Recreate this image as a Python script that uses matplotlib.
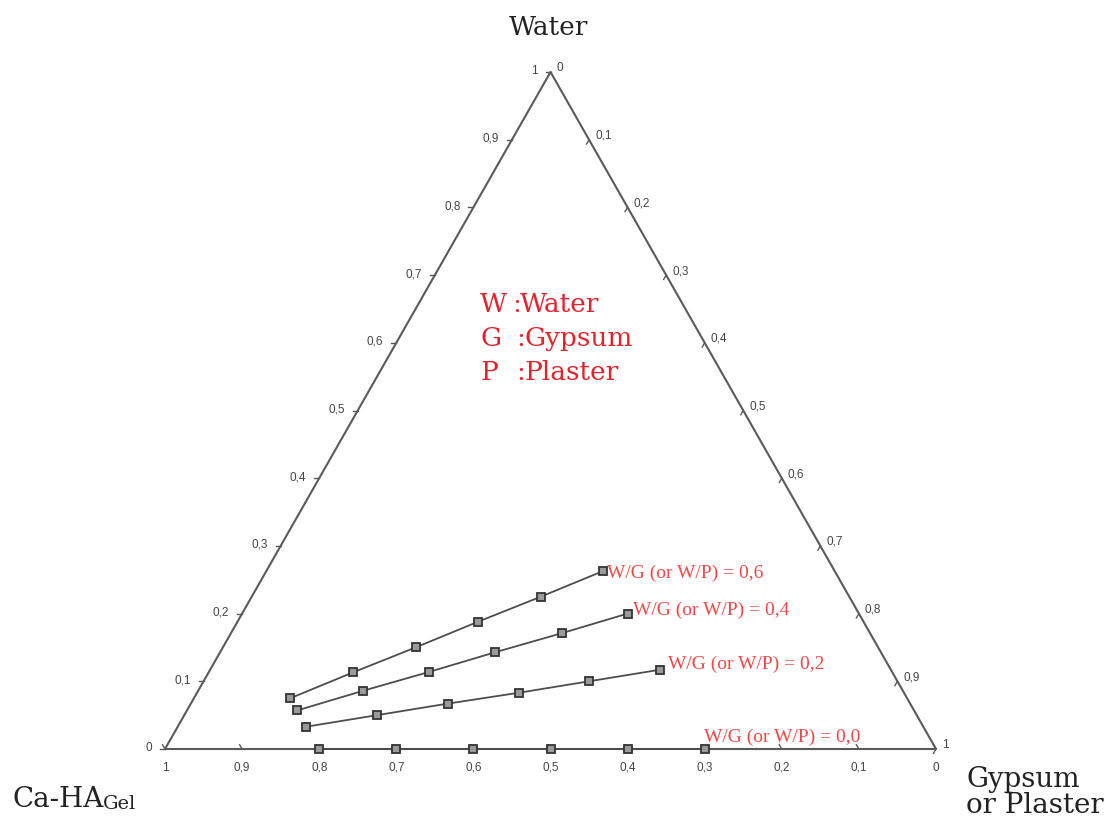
import matplotlib.pyplot as plt

# Ternary compositions (mass fractions)
ca_ha = [0.8, 0.7, 0.6, 0.5, 0.4, 0.3]
water_wg00 = [0.0, 0.0, 0.0, 0.0, 0.0, 0.0]
water_wg02 = [0.033, 0.05, 0.067, 0.083, 0.1, 0.117]
water_wg04 = [0.057, 0.086, 0.114, 0.143, 0.171, 0.2]
water_wg06 = [0.075, 0.113, 0.15, 0.188, 0.225, 0.263]
series_water = [water_wg00, water_wg02, water_wg04, water_wg06]
series_labels = ["W/G (or W/P) = 0,0", "W/G (or W/P) = 0,2",
                 "W/G (or W/P) = 0,4", "W/G (or W/P) = 0,6"]

tick_values = [0.0, 0.1, 0.2, 0.3, 0.4, 0.5, 0.6, 0.7, 0.8, 0.9, 1.0]
tick_labels = ["0", "0,1", "0,2", "0,3", "0,4", "0,5", "0,6", "0,7", "0,8", "0,9", "1"]

legend_keys = ["W", "G", "P"]
legend_names = ["Water", "Gypsum", "Plaster"]

W, H = 1106, 839
X0, XR, YB, HT = 165, 771, 749, 677  # triangle placement in pixels

fig = plt.figure(figsize=(W / 100, H / 100), dpi=100)
ax = fig.add_axes([0, 0, 1, 1])
ax.set_xlim(-X0 / XR, (W - X0) / XR)
ax.set_ylim(-(H - YB) / HT, YB / HT)
ax.axis("off")

px, py = 1 / XR, 1 / HT  # one pixel in data units


def tern(c, w):
    g = 1 - c - w
    return g + w / 2, w


# triangle outline
ax.plot([0, 1, 0.5, 0], [0, 0, 1, 0], color="#5a5a5a", lw=1.5, zorder=1)

tick_kw = dict(textcoords="offset pixels", fontsize=8.5, color="#444444",
               family="Liberation Sans")
for v, lab in zip(tick_values, tick_labels):
    # left edge: water
    x, y = tern(1 - v, v)
    ax.plot([x - 5 * px, x], [y, y], color="#5a5a5a", lw=1)
    ax.annotate(lab, (x, y), xytext=(-13, 1), ha="right", va="center", **tick_kw)
    # right edge: gypsum
    x, y = tern(0, 1 - v)
    ax.plot([x, x - 2.5 * px], [y, y - 4.3 * py], color="#5a5a5a", lw=1)
    ax.annotate(lab, (x, y), xytext=(6, 4), ha="left", va="center", **tick_kw)
    # bottom edge: Ca-HA
    x, y = tern(v, 0)
    ax.plot([x, x - 2.5 * px], [y, y + 4.3 * py], color="#5a5a5a", lw=1)
    ax.annotate(lab, (x, y), xytext=(0, -19), ha="center", va="center", **tick_kw)

label_offsets = [(-1, 12), (8, 5), (5, 3), (4, -2)]
for water, lab, off in zip(series_water, series_labels, label_offsets):
    pts = [tern(c, w) for c, w in zip(ca_ha, water)]
    xs = [p[0] for p in pts]
    ys = [p[1] for p in pts]
    ax.plot(xs, ys, color="#4d4d4d", lw=1.3, marker="s", ms=5.5,
            mfc="#9a9a9a", mec="#333333", mew=1.3, zorder=3)
    ax.annotate(lab, (xs[-1], ys[-1]), xytext=off, textcoords="offset pixels",
                ha="left", va="center", fontsize=14, color="#f04848",
                family="Liberation Serif")

# legend of abbreviations
red = dict(fontsize=19, color="#e3232b", family="DejaVu Serif",
           va="baseline", ha="left")
colon_x = [512, 516, 516]
name_x = [520, 525, 525]
for i, (k, n) in enumerate(zip(legend_keys, legend_names)):
    yb = 1 - (312 + 34 * i) / H
    fig.text(480 / W, yb, k, **red)
    fig.text(colon_x[i] / W, yb, ":", **red)
    fig.text(name_x[i] / W, yb, n, **red)

# vertex names
serif = dict(family="DejaVu Serif", color="#222222", va="baseline")
fig.text(549 / W, 1 - 35 / H, "Water", ha="center", fontsize=19, **serif)
t1 = fig.text(12 / W, 1 - 807 / H, "Ca-HA", ha="left", fontsize=20, **serif)
ax.annotate("Gel", xy=(1, 0), xycoords=t1, xytext=(0, 0), textcoords="offset pixels",
            ha="left", va="bottom", fontsize=14, family="DejaVu Serif", color="#222222")
fig.text(966 / W, 1 - 787 / H, "Gypsum", ha="left", fontsize=20, **serif)
fig.text(966 / W, 1 - 813 / H, "or Plaster", ha="left", fontsize=20, **serif)

fig.savefig("out.png", dpi=100, facecolor="white")
